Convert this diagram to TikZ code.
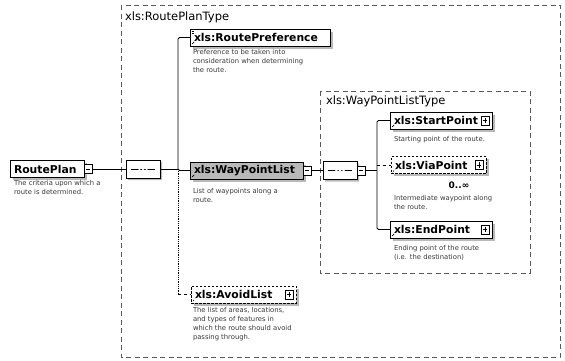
\documentclass[tikz,border=0pt]{standalone}
\usepackage{fontspec}
\setmainfont{DejaVu Sans}
\usetikzlibrary{shapes.misc,shadows,calc}

\begin{document}
\begin{tikzpicture}[x=1pt,y=-1pt,
  every node/.style={inner sep=0pt, outer sep=0pt},
  conn/.style={line width=0.8pt, rounded corners=1.5pt},
  container/.style={draw=black!65, line width=0.6pt, dash pattern=on 5pt off 3.5pt},
  boxlabel/.style={anchor=west, font=\fontsize{11.5}{12}\selectfont},
  elem/.style={draw, line width=0.8pt, fill=white, anchor=west, align=left,
    minimum height=17pt, inner xsep=4pt,
    font=\fontsize{10.8}{11}\selectfont\bfseries,
    general shadow={fill=gray!55, shadow xshift=2.5pt, shadow yshift=-2.5pt}},
  refelem/.style={elem, path picture={
    \draw[line width=0.7pt] ($(path picture bounding box.south west)+(1.2pt,1.2pt)$) -- ++(3pt,3pt);
    \fill ($(path picture bounding box.south west)+(0.8pt,0.8pt)$) -- ++(2.6pt,0) -- ++(-2.6pt,2.6pt) -- cycle;}},
  optelem/.style={refelem, dash pattern=on 2.5pt off 1.5pt},
  desc/.style={anchor=north west, align=left, text=black!78,
    font=\fontsize{6.8}{9}\selectfont},
  pm/.style={draw, fill=white, line width=0.6pt, minimum width=8pt, minimum height=9pt},
  minusbox/.style={pm, path picture={
    \draw[line width=0.7pt] ($(path picture bounding box.west)+(1.8pt,0)$) -- ($(path picture bounding box.east)+(-1.8pt,0)$);}},
  plusbox/.style={pm, path picture={
    \draw[line width=0.7pt] ($(path picture bounding box.west)+(1.8pt,0)$) -- ($(path picture bounding box.east)+(-1.8pt,0)$);
    \draw[line width=0.7pt] ($(path picture bounding box.north)+(0,-1.8pt)$) -- ($(path picture bounding box.south)+(0,1.8pt)$);}},
  seqbox/.style={chamfered rectangle, chamfered rectangle xsep=4pt, draw, line width=0.8pt,
    fill=white, minimum width=34pt, minimum height=18pt,
    general shadow={fill=gray!55, shadow xshift=2pt, shadow yshift=-2pt},
    path picture={
      \draw[line width=0.8pt] ($(path picture bounding box.west)+(5pt,0)$) -- ($(path picture bounding box.east)+(-5pt,0)$);
      \foreach \d in {-3.6,0,3.6} \fill ($(path picture bounding box.center)+(\d pt,0)$) circle (1.3pt);}}
]
\useasboundingbox (0,0) rectangle (565,360);

% type containers
\draw[container] (121,5) rectangle (560,357);
\node[boxlabel] (planType) at (125,17) {xls:RoutePlanType};
\draw[container] (320,91) rectangle (530,273);
\node[boxlabel] (wplType) at (326,101) {xls:WayPointListType};

% root element
\node[elem, text width=66pt] (plan) at (10,169) {RoutePlan};
\node[minusbox, anchor=west] (planm) at (plan.east) {};
\node[desc] (planD) at (14,180) {The criteria upon which a\\route is determined.};

\node[seqbox] (seq1) at (143,169) {};
\coordinate (jn) at (178,169);

% children of RoutePlanType
\node[refelem, text width=132pt] (pref) at (190,37.5) {xls:RoutePreference};
\draw[line width=0.6pt] (191.5,31) -- ++(2.5,0) (191.5,33) -- ++(2.5,0);
\node[desc] (prefD) at (193,49) {Preference to be taken into\\consideration when determining\\the route.};

\node[refelem, fill=gray!55, text width=105pt] (wpl) at (190,170.5) {xls:WayPointList};
\node[minusbox, anchor=west] (wplm) at (wpl.east) {};
\node[desc] (wplD) at (193,188) {List of waypoints along a\\route.};

\node[optelem, text width=97pt] (avoid) at (191,294.5) {xls:AvoidList};
\node[plusbox] (avoidp) at ([xshift=-7pt]avoid.east) {};
\node[desc] (avoidD) at (193,307) {The list of areas, locations,\\and types of features in\\which the route should avoid\\passing through.};

% sequence of WayPointListType
\node[seqbox] (seq2) at (340,170.5) {};
\node[minusbox, anchor=west] (seq2m) at (seq2.east) {};
\coordinate (br) at (377,170.5);

\node[refelem, text width=94pt] (start) at (390,120.5) {xls:StartPoint};
\node[plusbox] (startp) at ([xshift=-7pt]start.east) {};
\node[desc] (startD) at (394,136) {Starting point of the route.};

\node[optelem, text width=87pt] (via) at (391,165) {xls:ViaPoint};
\node[plusbox] (viap) at ([xshift=-7pt]via.east) {};
\node[font=\fontsize{9}{9}\selectfont\bfseries] (viaOcc) at (459,185) {0..∞};
\node[desc] (viaD) at (394,195) {Intermediate waypoint along\\the route.};

\node[refelem, text width=94pt] (end) at (390,229.5) {xls:EndPoint};
\node[plusbox] (endp) at ([xshift=-7pt]end.east) {};
\node[desc] (endD) at (394,245) {Ending point of the route\\(i.e. the destination)};

% connectors
\draw[conn] (planm.east) -- (seq1.west);
\draw[conn] (seq1.east) -- (jn);
\draw[conn] (jn) |- (pref.west);
\draw[conn] (jn) |- (wpl.west);
\coordinate (ja) at (jn |- avoid.west);
\draw[conn, densely dotted] (jn) -- (ja);
\draw[conn, dashed] (ja) -- (avoid.west);

\draw[conn] (wplm.east) -- (seq2.west);
\draw[conn] (seq2m.east) -- (br);
\draw[conn] (br) |- (start.west);
\draw[conn] (br) |- (end.west);
\coordinate (bv) at (br |- via.west);
\draw[conn, dashed] (bv) -- (via.west);
\end{tikzpicture}
\end{document}
